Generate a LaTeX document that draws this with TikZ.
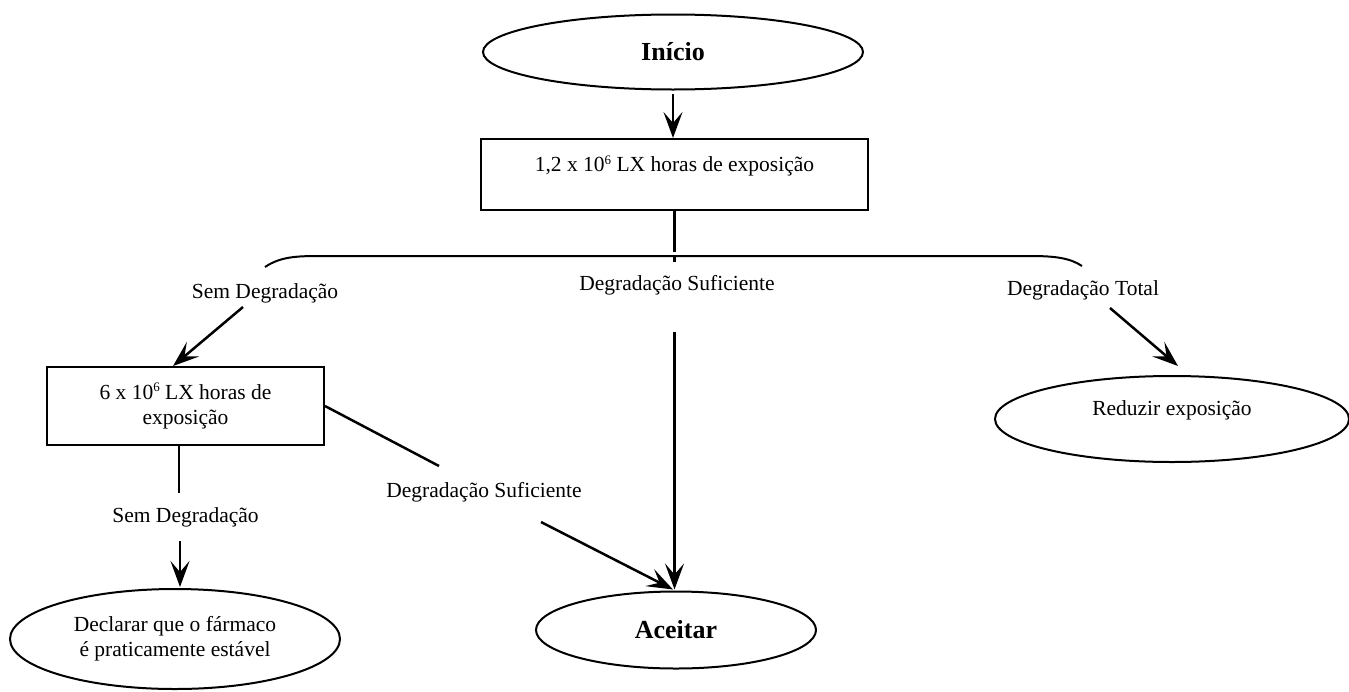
\documentclass[tikz,border=0pt]{standalone}
\usepackage{fontspec}
\setmainfont{Liberation Serif}
\usetikzlibrary{shapes.geometric,arrows.meta,calc}

\newcommand{\sixexp}{\raisebox{0.75ex}{\fontsize{13}{13}\selectfont 6}}

\tikzset{
  every path/.style={line width=2.5pt},
  txt/.style={font=\fontsize{21.5}{25}\selectfont, inner sep=2pt},
  oval/.style={draw, ellipse, inner sep=0pt, line width=2pt},
  stepbox/.style={draw, rectangle, inner sep=0pt, line width=2pt},
  arr/.style={-{Stealth[length=26pt,width=19pt,inset=11pt]}},
}

\begin{document}
\begin{tikzpicture}[x=1pt,y=-1pt]
  \useasboundingbox (0,0) rectangle (1349,691);

  % start and first exposure step
  \node[oval, minimum width=380, minimum height=75] (start) at (673,52)
    {\fontsize{26}{30}\selectfont\bfseries Início};
  \node[stepbox, minimum width=387, minimum height=71,
        label={[txt, yshift=8.5pt]center:1,2 x 10\sixexp{} LX horas de exposição}]
    (box1) at (674.5,174.5) {};

  % outcome labels of the first step
  \node[txt] (none1) at (265,293) {Sem Degradação};
  \node[txt] (suff1) at (677,285) {Degradação Suficiente};
  \node[txt] (total) at (1083,290) {Degradação Total};

  % second exposure step
  \node[stepbox, txt, minimum width=277, minimum height=78, align=center]
    (box2) at (185.5,406) {6 x 10\sixexp{} LX horas de\\exposição};
  \node[txt] (none2) at (185.5,517) {Sem Degradação};
  \node[txt] (suff2) at (484,492) {Degradação Suficiente};

  % end states
  \node[oval, txt, minimum width=330, minimum height=100, align=center]
    (declare) at (175,639) {Declarar que o fármaco\\é praticamente estável};
  \node[oval, minimum width=280, minimum height=77] (accept) at (676,630)
    {\fontsize{26}{30}\selectfont\bfseries Aceitar};
  \node[oval, minimum width=354, minimum height=86,
        label={[txt, yshift=9pt]center:Reduzir exposição}]
    (reduce) at (1172,419) {};

  % branching brace under the first step
  \coordinate (braceL) at (265,267);
  \coordinate (braceR) at (1082,266);
  \coordinate (braceC) at (674.5,256);
  \draw[line width=2pt] (braceL) .. controls (280,257) and (295,256) .. (320,256)
        -- (1030,256) .. controls (1055,256) and (1070,258) .. (braceR);
  \draw (braceC) -- ++(0,6);

  % gap ends of the connectors around labels
  \coordinate (n1s) at (243,307);
  \coordinate (s1s) at (674.5,332);
  \coordinate (t1s) at (1110,308);
  \coordinate (b2e) at (439,466);
  \coordinate (s2s) at (541,522);
  \coordinate (n2a) at (179,493);
  \coordinate (n2b) at (180,541);
  \coordinate (b1e) at (674.5,252);

  % connectors
  \draw[arr] ([yshift=-3.5pt]start.south) -- (start.south |- box1.north);
  \draw (box1.south) -- (b1e);
  \draw[arr] (n1s) -- ([xshift=-12.5pt]box2.north);
  \draw[arr] (s1s) -- ([yshift=1pt]accept.north -| s1s);
  \draw[arr] (t1s) -- ([xshift=6pt,yshift=9pt]reduce.north);
  \draw (box2.south -| n2a) -- (n2a);
  \draw[arr] (n2b) -- ([yshift=1pt]declare.north -| n2b);
  \draw (box2.east) -- (b2e);
  \draw[arr] (s2s) -- ([xshift=-3pt,yshift=1pt]accept.north);
\end{tikzpicture}
\end{document}
